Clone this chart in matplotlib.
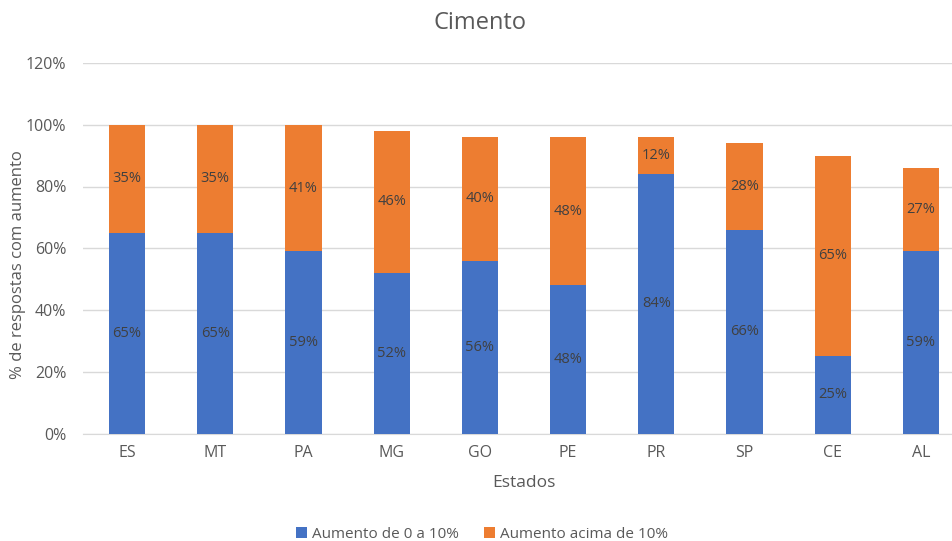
import matplotlib
matplotlib.use("Agg")
import matplotlib.pyplot as plt
import numpy as np
from matplotlib.ticker import FuncFormatter

estados = ["ES", "MT", "PA", "MG", "GO", "PE", "PR", "SP", "CE", "AL"]
ate10 = [65, 65, 59, 52, 56, 48, 84, 66, 25, 59]
acima10 = [35, 35, 41, 46, 40, 48, 12, 28, 65, 27]
series_names = ["Aumento de 0 a 10%", "Aumento acima de 10%"]

plt.rcParams['font.family'] = ['Open Sans', 'DejaVu Sans']
txt = "#595959"

fig = plt.figure(figsize=(9.52, 5.41), dpi=100)
ax = fig.add_axes([83/952, 107.5/541, 882/952, 370.5/541])

x = np.arange(len(estados))
w = 0.41
b1 = ax.bar(x, ate10, w, color="#4472C4", label=series_names[0], zorder=3)
b2 = ax.bar(x, acima10, w, bottom=ate10, color="#ED7D31", label=series_names[1], zorder=3)

for i in range(len(estados)):
    ax.text(x[i], ate10[i] / 2, f"{ate10[i]}%", ha="center", va="center",
            fontsize=10.5, color="#404040", zorder=4)
    ax.text(x[i], ate10[i] + acima10[i] / 2, f"{acima10[i]}%", ha="center", va="center",
            fontsize=10.5, color="#404040", zorder=4)

ax.set_xlim(-0.5, len(estados) - 0.5)
ax.set_ylim(0, 120)
ax.set_yticks(np.arange(0, 121, 20))
ax.yaxis.set_major_formatter(FuncFormatter(lambda v, p: f"{int(v)}%"))
ax.set_xticks(x)
ax.set_xticklabels(estados)
ax.tick_params(axis="both", length=0, colors=txt, labelsize=11.5)
ax.tick_params(axis="x", pad=8)
ax.tick_params(axis="y", pad=12)
ax.grid(axis="y", color="#D9D9D9", linewidth=1, zorder=0)
for s in ["top", "right", "left"]:
    ax.spines[s].set_visible(False)
ax.spines["bottom"].set_color("#D9D9D9")

fig.text(480/952, 1 - 23/541, "Cimento", ha="center", va="center",
         fontsize=17, color=txt)
fig.text(524/952, 1 - 483/541, "Estados", ha="center", va="center",
         fontsize=12.5, color=txt)
fig.text(18/952, 1 - 265/541, "% de respostas com aumento", rotation=90,
         ha="center", va="center", fontsize=12, color=txt)

leg = fig.legend(handles=[b1, b2], labels=series_names, loc="center",
                 bbox_to_anchor=(482/952, 1 - 534/541), ncol=2, frameon=False,
                 fontsize=11, handlelength=0.7, handleheight=0.7,
                 handletextpad=0.3, columnspacing=1.7, labelcolor=txt)

fig.savefig("out.png", dpi=100)
